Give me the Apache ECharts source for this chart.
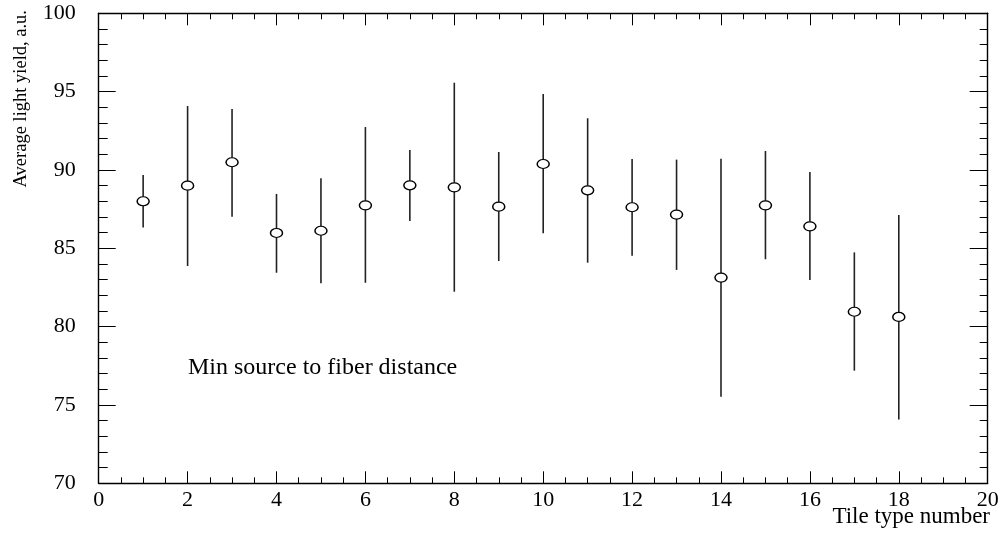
<!DOCTYPE html>
<html>
<head>
<meta charset="utf-8">
<script src="https://cdn.jsdelivr.net/npm/echarts@6/dist/echarts.min.js"></script>
<style>
html,body{margin:0;padding:0;background:#fff;}
#chart{width:1005px;height:538px;}
</style>
</head>
<body>
<div id="chart"></div>
<script>
// Data
const tileType = [1, 2, 3, 4, 5, 6, 7, 8, 9, 10, 11, 12, 13, 14, 15, 16, 17, 18];
const lightYield = [88.0, 89.0, 90.49, 85.98, 86.12, 87.74, 89.02, 88.89, 87.66, 90.38, 88.7, 87.62, 87.15, 83.13, 87.74, 86.4, 80.95, 80.62];
const errLow = [86.32, 83.87, 87.02, 83.44, 82.77, 82.8, 86.74, 82.23, 84.19, 85.96, 84.08, 84.53, 83.62, 75.53, 84.3, 82.98, 77.19, 74.08];
const errHigh = [89.68, 94.08, 93.89, 88.47, 89.47, 92.74, 91.27, 95.57, 91.15, 94.85, 93.3, 90.7, 90.66, 90.72, 91.21, 89.87, 84.74, 87.13];
const xTitle = 'Tile type number';
const yTitle = 'Average light yield, a.u.';
const note = 'Min source to fiber distance';

const FONT = '"Liberation Serif", "Times New Roman", serif';
const INK = '#000';

const chart = echarts.init(document.getElementById('chart'), null, {renderer: 'canvas'});

const points = tileType.map((x, i) => [x, lightYield[i]]);
const bars = tileType.map((x, i) => [x, errLow[i], errHigh[i]]);

function xAxisBase(pos, showLabel, major, minor) {
  return {
    type: 'value', position: pos, min: 0, max: 20, interval: 2,
    axisLine: {show: true, onZero: false, lineStyle: {color: INK, width: 1.4}},
    axisTick: {show: true, inside: true, length: major, lineStyle: {color: INK, width: 1}},
    minorTick: {show: true, splitNumber: 4, length: minor, lineStyle: {color: INK, width: 1}},
    splitLine: {show: false},
    axisLabel: {show: showLabel, color: INK, fontFamily: FONT, fontSize: 22, margin: 6}
  };
}
function yAxisBase(pos, showLabel, major, minor) {
  return {
    type: 'value', position: pos, min: 70, max: 100, interval: 5,
    axisLine: {show: true, onZero: false, lineStyle: {color: INK, width: 1.4}},
    axisTick: {show: true, inside: true, length: major, lineStyle: {color: INK, width: 1}},
    minorTick: {show: true, splitNumber: 5, length: minor, lineStyle: {color: INK, width: 1}},
    splitLine: {show: false},
    axisLabel: {show: showLabel, color: INK, fontFamily: FONT, fontSize: 22, margin: 23}
  };
}

const option = {
  backgroundColor: '#fff',
  animation: false,
  grid: {left: 98.7, right: 17.3, top: 13.3, bottom: 54.7, containLabel: false, outerBoundsMode: 'none'},
  xAxis: [
    xAxisBase('bottom', true, 12, 6),
    xAxisBase('top', false, 12, 6)
  ],
  yAxis: [
    yAxisBase('left', true, 17, 9),
    yAxisBase('right', false, 18, 8)
  ],
  graphic: [
    {type: 'text', x: 21, y: 10, rotation: Math.PI / 2,
     style: {text: yTitle, fill: INK, font: '18.5px ' + FONT, align: 'right', verticalAlign: 'middle'}},
    {type: 'text', x: 990, y: 517,
     style: {text: xTitle, fill: INK, font: '23px ' + FONT, align: 'right', verticalAlign: 'middle'}},
    {type: 'text', x: 188, y: 368,
     style: {text: note, fill: INK, font: '24px ' + FONT, align: 'left', verticalAlign: 'middle'}}
  ],
  series: [
    {
      type: 'custom', xAxisIndex: 0, yAxisIndex: 0, z: 2,
      data: bars,
      renderItem: function (params, api) {
        const p1 = api.coord([api.value(0), api.value(1)]);
        const p2 = api.coord([api.value(0), api.value(2)]);
        return {type: 'line', shape: {x1: p1[0], y1: p1[1], x2: p2[0], y2: p2[1]},
                style: {stroke: '#222', lineWidth: 1.6}};
      }
    },
    {
      type: 'scatter', xAxisIndex: 0, yAxisIndex: 0, z: 3,
      data: points,
      symbol: 'path://M0,5C0,2.24 2.24,0 5,0C7.76,0 10,2.24 10,5C10,7.76 7.76,10 5,10C2.24,10 0,7.76 0,5Z',
      symbolKeepAspect: false,
      symbolSize: [12, 9],
      itemStyle: {color: '#fff', borderColor: INK, borderWidth: 1.3, opacity: 1}
    }
  ]
};
chart.setOption(option);
</script>
</body>
</html>
